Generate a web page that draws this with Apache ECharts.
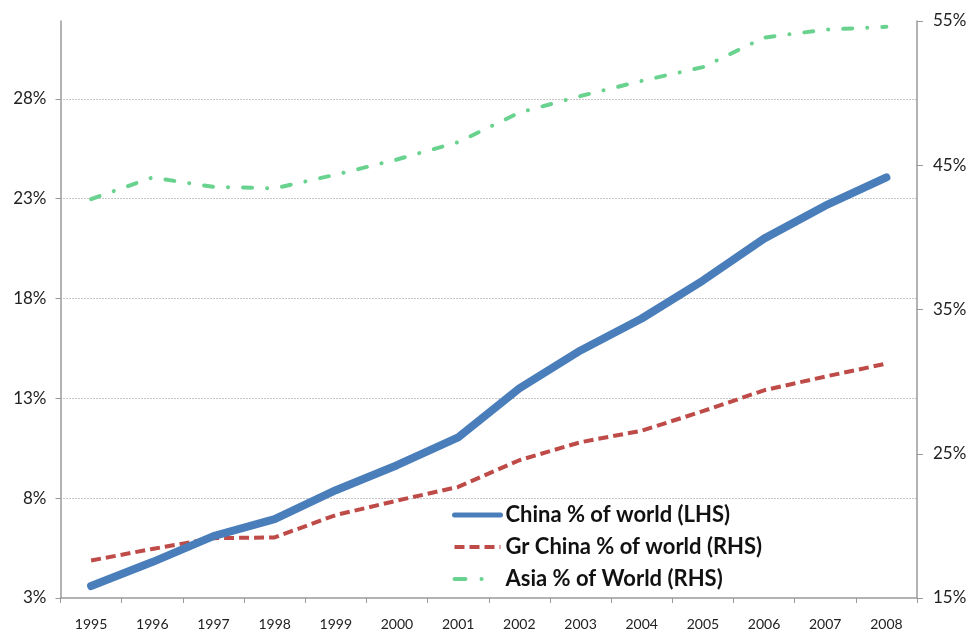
<!DOCTYPE html>
<html>
<head>
<meta charset="utf-8">
<style>
  html, body { margin: 0; padding: 0; background: #ffffff; }
  #chart { width: 972px; height: 632px; }
</style>
<script src="https://cdn.jsdelivr.net/npm/echarts@6/dist/echarts.min.js"></script>
</head>
<body>
<div id="chart"></div>
<script>
// ---- Data ----
const years = ['1995','1996','1997','1998','1999','2000','2001','2002','2003','2004','2005','2006','2007','2008'];
const chinaPctWorld = [3.6, 4.8, 6.1, 6.95, 8.4, 9.65, 11.05, 13.5, 15.4, 17.0, 18.9, 21.0, 22.65, 24.07];      // LHS
const grChinaPctWorld = [17.6, 18.4, 19.15, 19.2, 20.75, 21.75, 22.7, 24.55, 25.8, 26.6, 27.95, 29.4, 30.35, 31.25]; // RHS
const asiaPctWorld = [42.65, 44.15, 43.5, 43.4, 44.35, 45.4, 46.6, 48.65, 49.8, 50.85, 51.8, 53.85, 54.4, 54.6];     // RHS
const seriesNames = ['China % of world (LHS)', 'Gr China % of world (RHS)', 'Asia % of World (RHS)'];
const leftAxisRange = [3, 31.9];
const rightAxisRange = [15, 55];

const FONT = 'Lato, "Liberation Sans", sans-serif';
const BLUE = '#4A7EBB', RED = '#BE4B48', GREEN = '#68D28E';
const NO_SYMBOL = { color: 'rgba(0,0,0,0)', borderColor: 'rgba(0,0,0,0)', borderWidth: 0 };

const chart = echarts.init(document.getElementById('chart'), null, { renderer: 'canvas' });
chart.setOption({
  animation: false,
  backgroundColor: '#ffffff',
  grid: { left: 60.5, right: 55, top: 21, bottom: 34, containLabel: false },
  legend: {
    orient: 'vertical',
    left: 452,
    top: 504,
    padding: 0,
    itemWidth: 46,
    itemHeight: 14,
    itemGap: 10,
    textStyle: { fontFamily: FONT, fontSize: 22, fontWeight: 'bold', color: '#111', lineHeight: 22 },
    data: [
      { name: seriesNames[0], itemStyle: NO_SYMBOL, lineStyle: { width: 5, type: 'solid', cap: 'round' } },
      { name: seriesNames[1], itemStyle: NO_SYMBOL, lineStyle: { width: 4, type: [10, 5] } },
      { name: seriesNames[2], itemStyle: NO_SYMBOL, lineStyle: { width: 4, type: [11, 16, 0.1, 30], cap: 'round' } }
    ]
  },
  xAxis: {
    type: 'category',
    data: years,
    boundaryGap: true,
    axisLine: { lineStyle: { color: '#9a9a9a', width: 1.5 } },
    axisTick: { show: true, length: 5, lineStyle: { color: '#9a9a9a' } },
    axisLabel: { fontFamily: FONT, fontSize: 14, color: '#222', margin: 19 },
    splitLine: { show: false }
  },
  yAxis: [
    {
      type: 'value',
      position: 'left',
      min: leftAxisRange[0],
      max: leftAxisRange[1],
      interval: 5,
      axisLine: { show: true, lineStyle: { color: '#9a9a9a', width: 1.5 } },
      axisTick: { show: true, length: 5, lineStyle: { color: '#9a9a9a' } },
      axisLabel: { fontFamily: FONT, fontSize: 17, color: '#222', margin: 14, formatter: '{value}%', showMaxLabel: false },
      splitLine: { show: true, showMinLine: false, showMaxLine: false, lineStyle: { color: '#8c8c8c', type: [1, 2], width: 1 } }
    },
    {
      type: 'value',
      position: 'right',
      min: rightAxisRange[0],
      max: rightAxisRange[1],
      interval: 10,
      axisLine: { show: true, lineStyle: { color: '#9a9a9a', width: 1.5 } },
      axisTick: { show: true, length: 6, lineStyle: { color: '#9a9a9a' } },
      axisLabel: { fontFamily: FONT, fontSize: 17, color: '#222', margin: 16, formatter: '{value}%' },
      splitLine: { show: false }
    }
  ],
  series: [
    {
      name: seriesNames[0], type: 'line', yAxisIndex: 0, data: chinaPctWorld,
      symbol: 'none', smooth: false, z: 3,
      lineStyle: { color: BLUE, width: 8, cap: 'round', join: 'round' },
      itemStyle: { color: BLUE }
    },
    {
      name: seriesNames[1], type: 'line', yAxisIndex: 1, data: grChinaPctWorld,
      symbol: 'none', z: 2,
      lineStyle: { color: RED, width: 4, type: [10, 5], join: 'round' },
      itemStyle: { color: RED }
    },
    {
      name: seriesNames[2], type: 'line', yAxisIndex: 1, data: asiaPctWorld,
      symbol: 'none', z: 2,
      lineStyle: { color: GREEN, width: 4, type: [9, 15, 0.1, 15], cap: 'round', join: 'round' },
      itemStyle: { color: GREEN }
    }
  ]
});
</script>
</body>
</html>
